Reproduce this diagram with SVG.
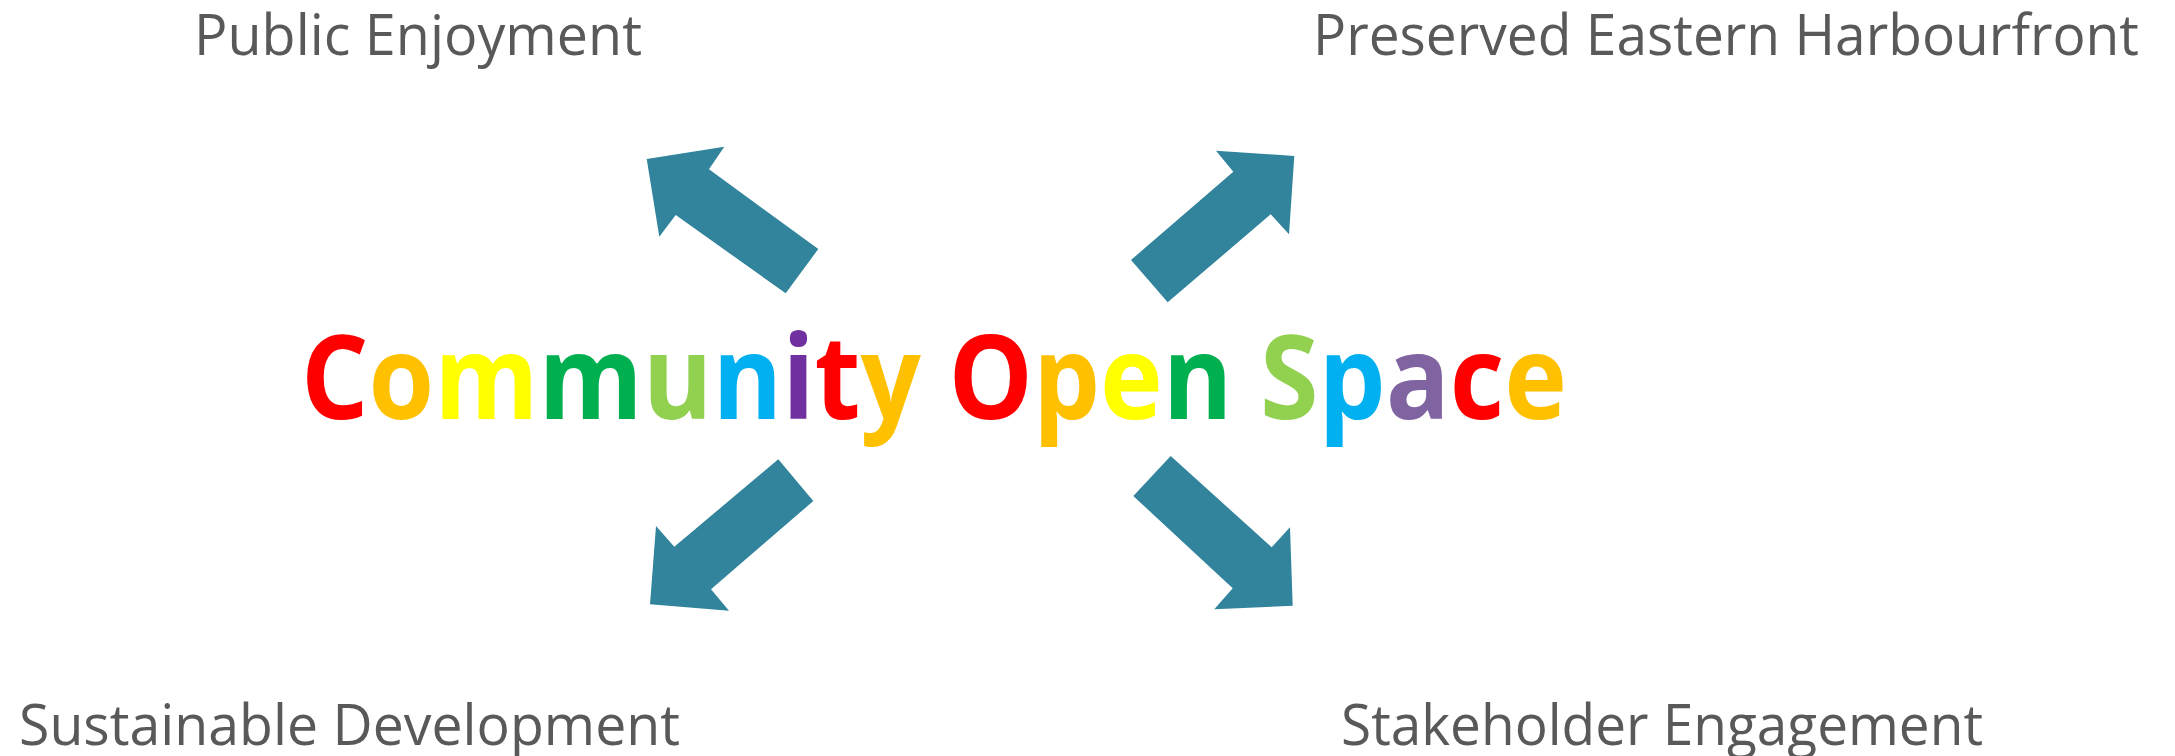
<svg xmlns="http://www.w3.org/2000/svg" width="2175" height="756" viewBox="0 0 2175 756">
<style>
.lbl{font-family:"Open Sans","Noto Sans","Liberation Sans",sans-serif;font-size:56px;fill:#595959}
.title{font-family:"Open Sans","Noto Sans","Liberation Sans",sans-serif;font-size:116px;font-weight:bold}
.arr{fill:#31849B}
</style>
<rect width="2175" height="756" fill="#ffffff"/>
<g id="connectors">
<polygon class="arr" points="646.7,159 724.3,146.7 709,169.3 818.3,249 785.7,293.3 675.7,215 659.3,236.7"/>
<polygon class="arr" points="1294.3,156 1289,234.3 1270.7,214.3 1167.7,302.3 1131,260 1233.3,171.7 1216,150.7"/>
<polygon class="arr" points="650,604.3 656,526 674.3,546.7 778.3,459.3 813.3,501 711,589.3 729,610.7"/>
<polygon class="arr" points="1292.7,605.7 1214.3,609.3 1232.7,588.3 1133.3,496 1170.7,456 1271.7,547.3 1290,527.3"/>
</g>
<g id="center">
<text class="title" x="301" y="419" textLength="1266" lengthAdjust="spacingAndGlyphs"><tspan fill="#FF0000">C</tspan><tspan fill="#FFC000">o</tspan><tspan fill="#FFFF00">m</tspan><tspan fill="#00B050">m</tspan><tspan fill="#92D050">u</tspan><tspan fill="#00B0F0">n</tspan><tspan fill="#7030A0">i</tspan><tspan fill="#FF0000">t</tspan><tspan fill="#FFC000">y</tspan> <tspan fill="#FF0000">O</tspan><tspan fill="#FFC000">p</tspan><tspan fill="#FFFF00">e</tspan><tspan fill="#00B050">n</tspan> <tspan fill="#92D050">S</tspan><tspan fill="#00B0F0">p</tspan><tspan fill="#8064A2">a</tspan><tspan fill="#FF0000">c</tspan><tspan fill="#FFC000">e</tspan></text>
</g>
<g id="public-enjoyment"><text class="lbl" x="194" y="55" textLength="448" lengthAdjust="spacingAndGlyphs">Public Enjoyment</text></g>
<g id="preserved-eastern-harbourfront"><text class="lbl" x="1313" y="55" textLength="826" lengthAdjust="spacingAndGlyphs">Preserved Eastern Harbourfront</text></g>
<g id="sustainable-development"><text class="lbl" x="19" y="745" textLength="661" lengthAdjust="spacingAndGlyphs">Sustainable Development</text></g>
<g id="stakeholder-engagement"><text class="lbl" x="1341" y="745" textLength="642" lengthAdjust="spacingAndGlyphs">Stakeholder Engagement</text></g>
</svg>
